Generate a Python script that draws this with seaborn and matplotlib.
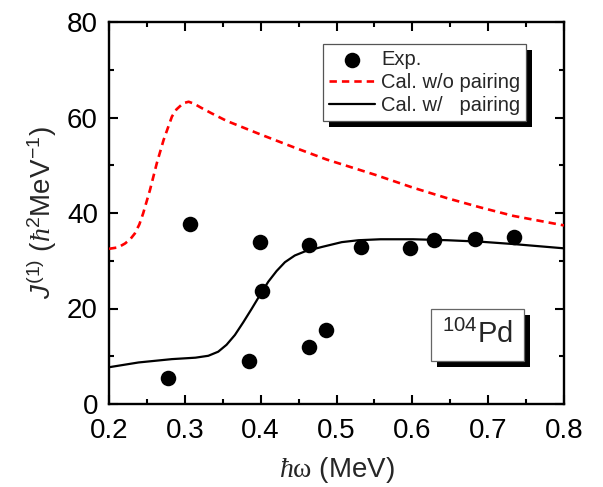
import matplotlib
matplotlib.use("Agg")
import matplotlib.pyplot as plt
import matplotlib.patheffects as pe
from matplotlib.ticker import MultipleLocator
import seaborn as sns
import pandas as pd

# Experimental kinematic moment of inertia
exp_omega = [0.278, 0.307, 0.385, 0.399, 0.402, 0.464, 0.464, 0.486, 0.532, 0.597, 0.628, 0.683, 0.734]
exp_j1 = [5.4, 37.7, 9.1, 34.0, 23.7, 33.4, 11.9, 15.5, 32.9, 32.7, 34.3, 34.6, 34.9]

# Calculation without pairing
nopair_omega = [0.200, 0.212, 0.221, 0.228, 0.234, 0.240, 0.245, 0.254, 0.263, 0.272, 0.283,
                0.289, 0.298, 0.305, 0.312, 0.322, 0.335, 0.355, 0.399, 0.443, 0.487, 0.551,
                0.601, 0.646, 0.689, 0.733, 0.800]
nopair_j1 = [32.5, 32.8, 33.6, 34.5, 35.7, 37.6, 39.9, 44.8, 50.4, 55.3, 60.2,
             61.7, 63.0, 63.3, 62.9, 62.0, 60.9, 59.3, 56.5, 53.8, 51.2, 48.0,
             45.3, 43.1, 41.2, 39.4, 37.4]

# Calculation with pairing
pair_omega = [0.200, 0.239, 0.283, 0.314, 0.331, 0.344, 0.355, 0.366, 0.377, 0.388, 0.399,
              0.410, 0.421, 0.432, 0.445, 0.459, 0.481, 0.507, 0.529, 0.558, 0.601, 0.646,
              0.689, 0.733, 0.800]
pair_j1 = [7.7, 8.7, 9.4, 9.7, 10.1, 10.95, 12.4, 14.45, 17.1, 19.9, 22.8,
           25.6, 27.85, 29.7, 31.1, 32.0, 32.9, 33.9, 34.3, 34.5, 34.5, 34.3,
           34.0, 33.5, 32.6]

x_ticks = [0.2, 0.3, 0.4, 0.5, 0.6, 0.7, 0.8]
y_ticks = [0, 20, 40, 60, 80]

sns.set_theme(style="ticks")
plt.rcParams["font.family"] = ["Liberation Sans", "DejaVu Sans"]
plt.rcParams["mathtext.fontset"] = "custom"
plt.rcParams["mathtext.rm"] = "Liberation Sans"
plt.rcParams["mathtext.it"] = "Liberation Sans:italic"
plt.rcParams["mathtext.cal"] = "Liberation Serif:italic"
plt.rcParams["mathtext.sf"] = "Liberation Serif"

fig = plt.figure(figsize=(6.03, 4.87), dpi=100)
ax = fig.add_axes([109 / 603, 83 / 487, 455 / 603, 382 / 487])

df_exp = pd.DataFrame({"omega": exp_omega, "j1": exp_j1})
df_np = pd.DataFrame({"omega": nopair_omega, "j1": nopair_j1})
df_p = pd.DataFrame({"omega": pair_omega, "j1": pair_j1})

sns.scatterplot(data=df_exp, x="omega", y="j1", ax=ax, s=125, color="black",
                edgecolor="black", linewidth=0, zorder=4, label="Exp.")
sns.lineplot(data=df_np, x="omega", y="j1", ax=ax, color="#ff0000", lw=1.9,
             dashes=(2.8, 1.9), estimator=None, sort=False, zorder=3,
             label="Cal. w/o pairing")
sns.lineplot(data=df_p, x="omega", y="j1", ax=ax, color="black", lw=1.6,
             estimator=None, sort=False, zorder=3, label="Cal. w/   pairing")

ax.set_xlim(0.2, 0.8)
ax.set_ylim(0, 80)
ax.set_xticks(x_ticks)
ax.set_yticks(y_ticks)
ax.set_xticklabels([f"{v:.1f}" for v in x_ticks])
ax.set_yticklabels([str(v) for v in y_ticks])
ax.xaxis.set_minor_locator(MultipleLocator(0.05))
ax.yaxis.set_minor_locator(MultipleLocator(10))
ax.tick_params(which="both", direction="in", top=True, right=True, width=1.5,
               colors="black", labelsize=20)
ax.tick_params(which="major", length=6.5)
ax.tick_params(which="minor", length=3.5)
ax.tick_params(axis="y", pad=8)
ax.tick_params(axis="x", pad=10)
for sp in ax.spines.values():
    sp.set_linewidth(1.7)
    sp.set_color("black")

ax.set_xlabel(r"$\mathcal{\hbar}\mathsf{\omega}$ (MeV)", fontsize=20, labelpad=8)
ax.set_ylabel(r"$J^{(1)}$ ($\mathcal{\hbar}^{2}$MeV$^{-1}$)", fontsize=20, labelpad=6)

shadow = [pe.SimplePatchShadow(offset=(4.3, -4.3), shadow_rgbFace="black", alpha=1.0),
          pe.Normal()]

leg = ax.legend(loc="upper left", bbox_to_anchor=(0.47, 0.9417), borderaxespad=0,
                fontsize=14.5, frameon=True, fancybox=False, framealpha=1,
                edgecolor="#555555", handlelength=2.3, handletextpad=0.3,
                labelspacing=0.2, borderpad=0.3, scatterpoints=1)
leg.get_frame().set_linewidth(0.9)
leg.get_frame().set_path_effects(shadow)

label = ax.text(0.809, 0.181, r"$^{104}$Pd", transform=ax.transAxes, ha="center",
                va="center", fontsize=21, zorder=5,
                bbox=dict(boxstyle="square,pad=0.38", fc="white", ec="#666666", lw=0.9))
label.get_bbox_patch().set_path_effects(shadow)

fig.savefig("out.png", dpi=100)
